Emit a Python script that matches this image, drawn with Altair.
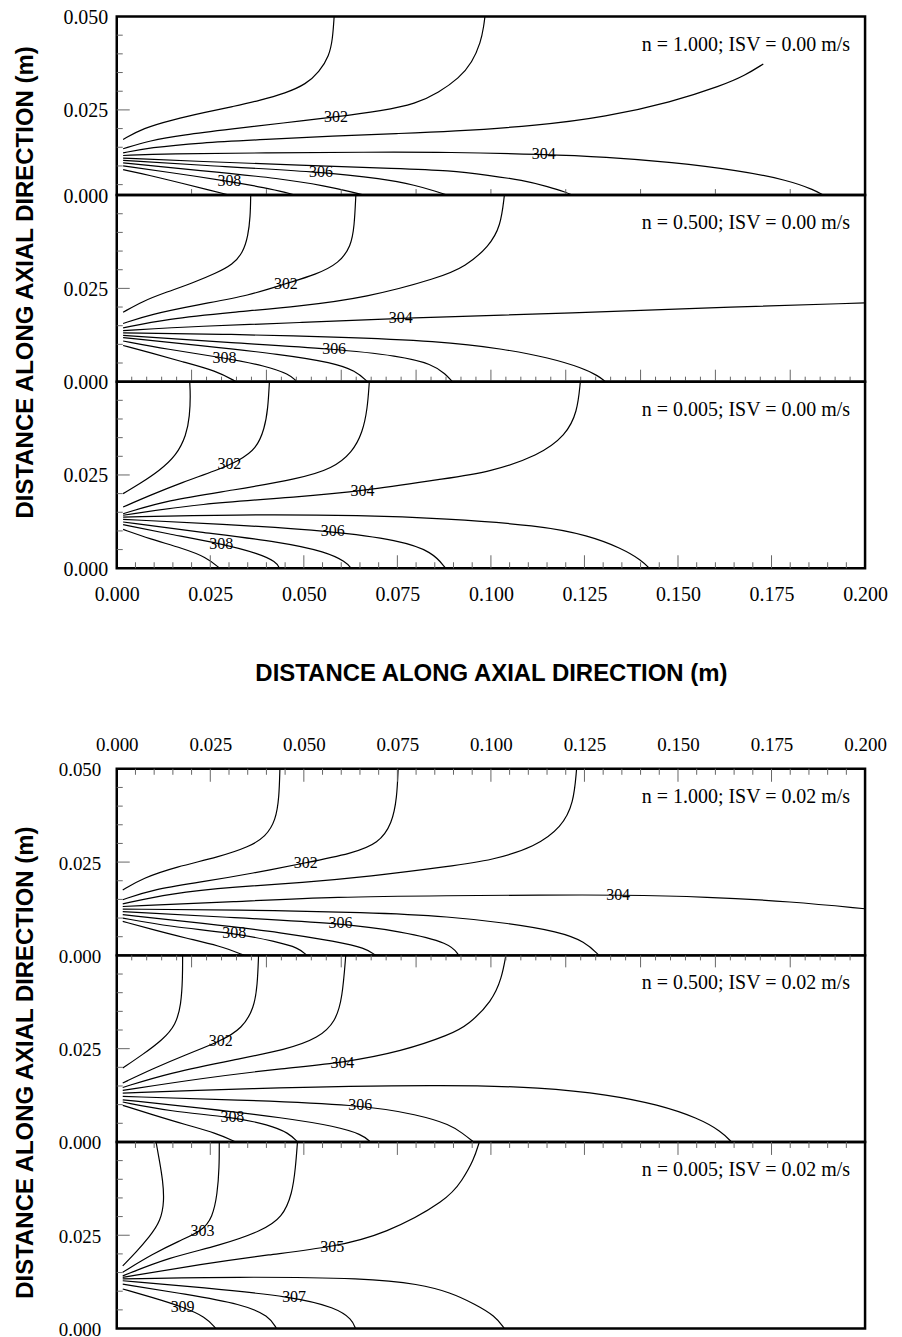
import altair as alt
import pandas as pd

# ---------------- data ----------------
X_LABEL_VALUES = [0.0, 0.025, 0.05, 0.075, 0.1, 0.125, 0.15, 0.175, 0.2]
Y_MINOR = [0.005, 0.01, 0.015, 0.02, 0.03, 0.035, 0.04, 0.045]
Y_MAJOR = [0.025]
X_MINOR_A = [round(0.005 * k, 3) for k in range(1, 40) if k % 5 != 0]
X_MAJOR_A = [0.025, 0.05, 0.075, 0.1, 0.125, 0.15, 0.175]
X_MINOR_B = [round(0.004 * k, 3) for k in range(1, 50) if k % 5 != 0]
X_MAJOR_B = [0.02, 0.04, 0.06, 0.08, 0.1, 0.12, 0.14, 0.16, 0.18]

NOTES = ["n = 1.000; ISV = 0.00 m/s", "n = 0.500; ISV = 0.00 m/s", "n = 0.005; ISV = 0.00 m/s",
         "n = 1.000; ISV = 0.02 m/s", "n = 0.500; ISV = 0.02 m/s", "n = 0.005; ISV = 0.02 m/s"]
NOTE_X = 0.196
NOTE_Y = 0.0425

# top group, n = 1.000, ISV = 0.00
P1 = {
    301: ([0.0017, 0.0070, 0.0150, 0.0239, 0.0310, 0.0381, 0.0452, 0.0506, 0.0541, 0.0568, 0.0577, 0.0581],
          [0.0171, 0.0201, 0.0224, 0.0244, 0.0259, 0.0275, 0.0295, 0.0319, 0.0351, 0.0395, 0.0440, 0.0500]),
    302: ([0.0017, 0.0088, 0.0177, 0.0310, 0.0443, 0.0586, 0.0710, 0.0799, 0.0861, 0.0915, 0.0950, 0.0973, 0.0981, 0.0984],
          [0.0146, 0.0168, 0.0183, 0.0199, 0.0215, 0.0231, 0.0248, 0.0266, 0.0297, 0.0335, 0.0377, 0.0431, 0.0475, 0.0500]),
    303: ([0.0017, 0.0088, 0.0221, 0.0399, 0.0577, 0.0755, 0.0888, 0.1128, 0.1306, 0.1483, 0.1617, 0.1679, 0.1728],
          [0.0135, 0.0149, 0.0162, 0.0171, 0.0180, 0.0187, 0.0192, 0.0208, 0.0231, 0.0271, 0.0315, 0.0342, 0.0373]),
    304: ([0.0017, 0.0133, 0.0399, 0.0666, 0.0888, 0.1141, 0.1306, 0.1483, 0.1661, 0.1795, 0.1866, 0.1888],
          [0.0128, 0.0133, 0.0135, 0.0137, 0.0137, 0.0131, 0.0124, 0.0110, 0.0088, 0.0062, 0.0035, 0.0022]),
    305: ([0.0017, 0.0221, 0.0488, 0.0755, 0.0888, 0.0995, 0.1084, 0.1155, 0.1200, 0.1217],
          [0.0121, 0.0112, 0.0102, 0.0093, 0.0088, 0.0075, 0.0062, 0.0044, 0.0030, 0.0022]),
    306: ([0.0017, 0.0221, 0.0546, 0.0711, 0.0800, 0.0853, 0.0884],
          [0.0115, 0.0102, 0.0084, 0.0066, 0.0048, 0.0032, 0.0022]),
    307: ([0.0017, 0.0221, 0.0443, 0.0559, 0.0630, 0.0661],
          [0.0108, 0.0088, 0.0066, 0.0046, 0.0030, 0.0022]),
    308: ([0.0017, 0.0133, 0.0301, 0.0399, 0.0452, 0.0475],
          [0.0100, 0.0084, 0.0059, 0.0041, 0.0029, 0.0022]),
    309: ([0.0017, 0.0088, 0.0177, 0.0248, 0.0301],
          [0.0090, 0.0075, 0.0053, 0.0035, 0.0022]),
}
P1_LABELS = [("302", 0.0586, 0.0231), ("304", 0.1141, 0.0131), ("306", 0.0546, 0.0084), ("308", 0.0301, 0.0059)]

# top group, n = 0.500, ISV = 0.00
P2 = {
    301: ([0.0017, 0.0070, 0.0133, 0.0204, 0.0266, 0.0310, 0.0337, 0.0351, 0.0357, 0.0358],
          [0.0186, 0.0216, 0.0240, 0.0265, 0.0291, 0.0314, 0.0345, 0.0390, 0.0443, 0.0500]),
    302: ([0.0017, 0.0088, 0.0221, 0.0355, 0.0452, 0.0533, 0.0595, 0.0626, 0.0635, 0.0639],
          [0.0156, 0.0180, 0.0207, 0.0231, 0.0263, 0.0287, 0.0318, 0.0363, 0.0416, 0.0500]),
    303: ([0.0017, 0.0133, 0.0310, 0.0488, 0.0666, 0.0861, 0.0933, 0.0995, 0.1026, 0.1036],
          [0.0144, 0.0168, 0.0186, 0.0202, 0.0225, 0.0278, 0.0309, 0.0363, 0.0416, 0.0500]),
    304: ([0.0017, 0.0221, 0.0488, 0.0759, 0.0861, 0.1217, 0.1573, 0.2000],
          [0.0137, 0.0149, 0.0158, 0.0170, 0.0173, 0.0184, 0.0198, 0.0211]),
    305: ([0.0017, 0.0310, 0.0577, 0.0861, 0.1039, 0.1155, 0.1244, 0.1288, 0.1306],
          [0.0131, 0.0127, 0.0120, 0.0109, 0.0087, 0.0064, 0.0037, 0.0015, 0.0000]),
    306: ([0.0017, 0.0310, 0.0581, 0.0755, 0.0844, 0.0879, 0.0897],
          [0.0124, 0.0104, 0.0088, 0.0069, 0.0047, 0.0020, 0.0000]),
    307: ([0.0017, 0.0221, 0.0443, 0.0577, 0.0639, 0.0670],
          [0.0118, 0.0097, 0.0073, 0.0051, 0.0029, 0.0000]),
    308: ([0.0017, 0.0133, 0.0288, 0.0399, 0.0461, 0.0482],
          [0.0109, 0.0087, 0.0064, 0.0042, 0.0020, 0.0000]),
    309: ([0.0017, 0.0088, 0.0177, 0.0266, 0.0319],
          [0.0097, 0.0078, 0.0053, 0.0029, 0.0000]),
}
P2_LABELS = [("302", 0.0452, 0.0263), ("304", 0.0759, 0.0170), ("306", 0.0581, 0.0088), ("308", 0.0288, 0.0064)]

# top group, n = 0.005, ISV = 0.00
P3 = {
    301: ([0.0017, 0.0061, 0.0115, 0.0159, 0.0186, 0.0195, 0.0197, 0.0195],
          [0.0200, 0.0226, 0.0262, 0.0302, 0.0356, 0.0409, 0.0463, 0.0500]),
    302: ([0.0017, 0.0088, 0.0177, 0.0266, 0.0328, 0.0373, 0.0395, 0.0404, 0.0408],
          [0.0164, 0.0195, 0.0231, 0.0262, 0.0289, 0.0320, 0.0374, 0.0427, 0.0500]),
    303: ([0.0017, 0.0133, 0.0310, 0.0488, 0.0577, 0.0630, 0.0657, 0.0670, 0.0675],
          [0.0146, 0.0182, 0.0209, 0.0240, 0.0267, 0.0311, 0.0364, 0.0427, 0.0500]),
    304: ([0.0017, 0.0221, 0.0488, 0.0657, 0.0875, 0.0995, 0.1128, 0.1200, 0.1231, 0.1239],
          [0.0142, 0.0173, 0.0191, 0.0207, 0.0240, 0.0257, 0.0302, 0.0356, 0.0418, 0.0500]),
    305: ([0.0017, 0.0310, 0.0666, 0.0875, 0.1128, 0.1261, 0.1350, 0.1403, 0.1423],
          [0.0137, 0.0144, 0.0142, 0.0133, 0.0115, 0.0088, 0.0053, 0.0021, 0.0000]),
    306: ([0.0017, 0.0310, 0.0577, 0.0755, 0.0844, 0.0879],
          [0.0131, 0.0117, 0.0099, 0.0075, 0.0044, 0.0000]),
    307: ([0.0017, 0.0221, 0.0443, 0.0559, 0.0613, 0.0626],
          [0.0124, 0.0097, 0.0070, 0.0044, 0.0017, 0.0000]),
    308: ([0.0017, 0.0133, 0.0279, 0.0381, 0.0426, 0.0435],
          [0.0117, 0.0093, 0.0066, 0.0039, 0.0017, 0.0000]),
    309: ([0.0017, 0.0088, 0.0177, 0.0239, 0.0275],
          [0.0104, 0.0079, 0.0053, 0.0030, 0.0000]),
}
P3_LABELS = [("302", 0.0301, 0.0280), ("304", 0.0657, 0.0207), ("306", 0.0577, 0.0099), ("308", 0.0279, 0.0066)]

# bottom group, n = 1.000, ISV = 0.02
PA = {
    301: ([0.0016, 0.0069, 0.0158, 0.0274, 0.0354, 0.0398, 0.0425, 0.0434, 0.0436],
          [0.0175, 0.0207, 0.0237, 0.0264, 0.0291, 0.0318, 0.0362, 0.0424, 0.0500]),
    302: ([0.0016, 0.0096, 0.0229, 0.0363, 0.0505, 0.0629, 0.0700, 0.0736, 0.0749, 0.0752],
          [0.0149, 0.0177, 0.0197, 0.0220, 0.0248, 0.0273, 0.0300, 0.0353, 0.0424, 0.0500]),
    303: ([0.0016, 0.0141, 0.0318, 0.0496, 0.0674, 0.0892, 0.1003, 0.1119, 0.1189, 0.1221, 0.1229],
          [0.0138, 0.0166, 0.0184, 0.0195, 0.0211, 0.0239, 0.0255, 0.0291, 0.0344, 0.0407, 0.0500]),
    304: ([0.0016, 0.0318, 0.0585, 0.0892, 0.1136, 0.1340, 0.1580, 0.1803, 0.2000],
          [0.0131, 0.0144, 0.0157, 0.0160, 0.0162, 0.0162, 0.0157, 0.0144, 0.0125]),
    305: ([0.0016, 0.0318, 0.0674, 0.0892, 0.1047, 0.1181, 0.1252, 0.1289],
          [0.0124, 0.0122, 0.0115, 0.0104, 0.0086, 0.0064, 0.0037, 0.0000]),
    306: ([0.0016, 0.0318, 0.0598, 0.0763, 0.0892, 0.0914],
          [0.0117, 0.0101, 0.0086, 0.0064, 0.0033, 0.0000]),
    307: ([0.0016, 0.0229, 0.0451, 0.0585, 0.0665, 0.0692],
          [0.0109, 0.0086, 0.0060, 0.0037, 0.0020, 0.0000]),
    308: ([0.0016, 0.0141, 0.0314, 0.0425, 0.0487, 0.0508],
          [0.0100, 0.0077, 0.0060, 0.0037, 0.0020, 0.0000]),
    309: ([0.0016, 0.0096, 0.0185, 0.0274, 0.0341],
          [0.0091, 0.0069, 0.0046, 0.0026, 0.0000]),
}
PA_LABELS = [("302", 0.0505, 0.0248), ("304", 0.1340, 0.0162), ("306", 0.0598, 0.0086), ("308", 0.0314, 0.0060)]

# bottom group, n = 0.500, ISV = 0.02
PB = {
    301: ([0.0016, 0.0069, 0.0123, 0.0158, 0.0172, 0.0176, 0.0176],
          [0.0198, 0.0234, 0.0274, 0.0314, 0.0368, 0.0439, 0.0500]),
    302: ([0.0016, 0.0096, 0.0185, 0.0278, 0.0336, 0.0367, 0.0376, 0.0379],
          [0.0158, 0.0196, 0.0234, 0.0270, 0.0305, 0.0359, 0.0421, 0.0500]),
    303: ([0.0016, 0.0141, 0.0318, 0.0452, 0.0541, 0.0585, 0.0603, 0.0612],
          [0.0146, 0.0185, 0.0221, 0.0247, 0.0279, 0.0323, 0.0386, 0.0500]),
    304: ([0.0016, 0.0229, 0.0451, 0.0603, 0.0763, 0.0892, 0.0940, 0.1003, 0.1029, 0.1040],
          [0.0138, 0.0171, 0.0198, 0.0212, 0.0243, 0.0288, 0.0314, 0.0377, 0.0439, 0.0500]),
    305: ([0.0016, 0.0318, 0.0892, 0.1136, 0.1314, 0.1447, 0.1554, 0.1616, 0.1643],
          [0.0131, 0.0143, 0.0154, 0.0146, 0.0127, 0.0100, 0.0064, 0.0028, 0.0000]),
    306: ([0.0016, 0.0318, 0.0651, 0.0807, 0.0892, 0.0923, 0.0954],
          [0.0122, 0.0113, 0.0100, 0.0073, 0.0046, 0.0024, 0.0000]),
    307: ([0.0016, 0.0229, 0.0451, 0.0585, 0.0656, 0.0678],
          [0.0113, 0.0091, 0.0064, 0.0042, 0.0020, 0.0000]),
    308: ([0.0016, 0.0141, 0.0309, 0.0407, 0.0460, 0.0483],
          [0.0107, 0.0082, 0.0067, 0.0046, 0.0024, 0.0000]),
    309: ([0.0016, 0.0096, 0.0185, 0.0265, 0.0318],
          [0.0098, 0.0073, 0.0046, 0.0024, 0.0000]),
}
PB_LABELS = [("302", 0.0278, 0.0270), ("304", 0.0603, 0.0212), ("306", 0.0651, 0.0100), ("308", 0.0309, 0.0067)]

# bottom group, n = 0.005, ISV = 0.02
PC = {
    302: ([0.0016, 0.0051, 0.0087, 0.0118, 0.0127, 0.0123, 0.0114, 0.0105],
          [0.0168, 0.0204, 0.0245, 0.0289, 0.0343, 0.0397, 0.0451, 0.0500]),
    303: ([0.0016, 0.0096, 0.0167, 0.0229, 0.0256, 0.0269, 0.0274, 0.0274],
          [0.0151, 0.0200, 0.0235, 0.0262, 0.0298, 0.0361, 0.0433, 0.0500]),
    304: ([0.0016, 0.0141, 0.0274, 0.0389, 0.0443, 0.0469, 0.0478, 0.0483],
          [0.0141, 0.0191, 0.0222, 0.0262, 0.0298, 0.0361, 0.0433, 0.0500]),
    305: ([0.0016, 0.0229, 0.0407, 0.0576, 0.0718, 0.0885, 0.0923, 0.0954, 0.0969],
          [0.0137, 0.0173, 0.0198, 0.0218, 0.0253, 0.0345, 0.0397, 0.0451, 0.0500]),
    306: ([0.0016, 0.0318, 0.0674, 0.0807, 0.0892, 0.0958, 0.1011, 0.1036],
          [0.0133, 0.0139, 0.0135, 0.0119, 0.0097, 0.0065, 0.0034, 0.0000]),
    307: ([0.0016, 0.0229, 0.0474, 0.0585, 0.0629, 0.0638],
          [0.0128, 0.0110, 0.0085, 0.0056, 0.0025, 0.0000]),
    308: ([0.0016, 0.0185, 0.0336, 0.0407, 0.0427],
          [0.0119, 0.0092, 0.0065, 0.0034, 0.0000]),
    309: ([0.0016, 0.0096, 0.0176, 0.0238, 0.0265],
          [0.0106, 0.0083, 0.0058, 0.0031, 0.0000]),
}
PC_LABELS = [("303", 0.0229, 0.0262), ("305", 0.0576, 0.0218), ("307", 0.0474, 0.0085), ("309", 0.0176, 0.0058)]

TITLE = "DISTANCE ALONG AXIAL DIRECTION (m)"

# ---------------- chart building ----------------
SERIF = "Liberation Serif"
SANS = "Liberation Sans"
W = 750


def curves_df(curves):
    rows = []
    for t, (xs, ys) in curves.items():
        for i, (x, y) in enumerate(zip(xs, ys)):
            rows.append({"curve": t, "i": i, "x": x, "y": y})
    return pd.DataFrame(rows)


def panel(curves, labels, note, height, ydom, yvals, top_label, lab_fs, lab_pad,
          xaxis=None, ytitle_y=None, edge=None):
    xs = alt.Scale(domain=[0, 0.2], nice=False, zero=False)
    ys = alt.Scale(domain=ydom, nice=False, zero=False)
    ykw = dict(values=yvals,
               labelExpr=f"datum.value > 0.04 ? '{top_label}' : format(datum.value, '.3f')",
               ticks=False, tickSize=0, domain=False, grid=False,
               labelFont=SERIF, labelFontSize=lab_fs, labelColor="black",
               labelPadding=lab_pad, labelOverlap=False, labelFlush=False, labelOffset=1)
    if ytitle_y is not None:
        ykw.update(title=TITLE, titleFont=SANS, titleFontWeight="bold", titleFontSize=24,
                   titleColor="black", titleAngle=270, titleX=-84, titleY=ytitle_y,
                   titleBaseline="alphabetic", titleAlign="center")
    else:
        ykw.update(title=None)
    yaxis = alt.Axis(**ykw)

    def X():
        return alt.X("x:Q", scale=xs, axis=xaxis)

    def Y():
        return alt.Y("y:Q", scale=ys, axis=yaxis)

    lines = alt.Chart(curves_df(curves)).mark_line(
        color="black", strokeWidth=1.2, clip=True, interpolate="basis"
    ).encode(x=X(), y=Y(), detail="curve:N", order="i:Q")

    lab_df = pd.DataFrame(labels, columns=["t", "x", "y"])
    texts = alt.Chart(lab_df).mark_text(
        font=SERIF, fontSize=16, color="black", align="center", baseline="middle"
    ).encode(x=X(), y=Y(), text="t:N")

    note_df = pd.DataFrame({"x": [NOTE_X], "y": [NOTE_Y], "t": [note]})
    note_t = alt.Chart(note_df).mark_text(
        font=SERIF, fontSize=20, color="black", align="right", baseline="middle"
    ).encode(x=X(), y=Y(), text="t:N")

    layers = [lines, texts, note_t]

    ymin = pd.DataFrame({"y": [v for v in Y_MINOR if v > ydom[0]]})
    ymaj = pd.DataFrame({"y": Y_MAJOR})
    layers.append(alt.Chart(ymin).mark_rule(color="#666", strokeWidth=1).encode(
        y=Y(), x=alt.value(0), x2=alt.value(6)))
    layers.append(alt.Chart(ymaj).mark_rule(color="#666", strokeWidth=1).encode(
        y=Y(), x=alt.value(0), x2=alt.value(13)))

    if edge is not None:
        side, minor, major, lmin, lmaj = edge
        for vals, ln in ((minor, lmin), (major, lmaj)):
            if not vals:
                continue
            d = pd.DataFrame({"x": vals})
            if side == "bottom":
                enc = dict(y=alt.value(height), y2=alt.value(height - ln))
            else:
                enc = dict(y=alt.value(0), y2=alt.value(ln))
            layers.append(alt.Chart(d).mark_rule(color="#666", strokeWidth=1).encode(x=X(), **enc))

    return alt.layer(*layers).properties(width=W, height=height)


x_bottom = alt.Axis(values=X_LABEL_VALUES, format=".3f", orient="bottom", ticks=False, tickSize=0,
                    domain=False, grid=False, labelFont=SERIF, labelFontSize=20, labelColor="black",
                    labelPadding=32, labelBaseline="alphabetic", labelFlush=False, labelOverlap=False,
                    title=TITLE, titleFont=SANS, titleFontWeight="bold", titleFontSize=24,
                    titleColor="black", titleY=113, titleBaseline="alphabetic")
x_top = alt.Axis(values=X_LABEL_VALUES, format=".3f", orient="top", ticks=False, tickSize=0,
                 domain=False, grid=False, labelFont=SERIF, labelFontSize=19, labelColor="black",
                 labelPadding=18, labelBaseline="alphabetic", labelFlush=False, labelOverlap=False,
                 title=None)

p1 = panel(P1, P1_LABELS, NOTES[0], 179, [0.0022, 0.05], [0.025, 0.05], "0.050", 20, 9,
           edge=("bottom", [], X_MAJOR_B, 6, 6))
p2 = panel(P2, P2_LABELS, NOTES[1], 187, [0, 0.05], [0.025, 0.05], "0.000", 20, 9,
           ytitle_y=87, edge=("bottom", X_MINOR_B, X_MAJOR_B, 5, 12))
p3 = panel(P3, P3_LABELS, NOTES[2], 187, [0, 0.05], [0, 0.025, 0.05], "0.000", 20, 9,
           xaxis=x_bottom, edge=("bottom", X_MINOR_A, X_MAJOR_A, 6, 13))
pa = panel(PA, PA_LABELS, NOTES[3], 187, [0, 0.05], [0.025, 0.05], "0.050", 19, 16,
           xaxis=x_top, edge=("top", X_MINOR_A, X_MAJOR_A, 6, 13))
pb = panel(PB, PB_LABELS, NOTES[4], 187, [0, 0.05], [0.025, 0.05], "0.000", 19, 16,
           ytitle_y=107, edge=("top", X_MINOR_B, X_MAJOR_B, 5, 12))
pc = panel(PC, PC_LABELS, NOTES[5], 187, [0, 0.05], [0, 0.025, 0.05], "0.000", 19, 16,
           edge=("top", X_MINOR_A, X_MAJOR_A, 6, 13))

spacer = alt.Chart(pd.DataFrame({"x": [0.1], "y": [0.025]})).mark_point(opacity=0).encode(
    x=alt.X("x:Q", axis=None), y=alt.Y("y:Q", axis=None)
).properties(width=W, height=201, view=alt.ViewBackground(strokeOpacity=0))

chart = alt.vconcat(p1, p2, p3, spacer, pa, pb, pc, spacing=0, bounds="flush").configure_view(
    stroke="black", strokeWidth=2.5
).properties(
    padding={"left": 4, "top": -4, "right": 5, "bottom": 5},
    background="white",
)

chart.save("out.html", embed_options={"renderer": "svg", "actions": False})
